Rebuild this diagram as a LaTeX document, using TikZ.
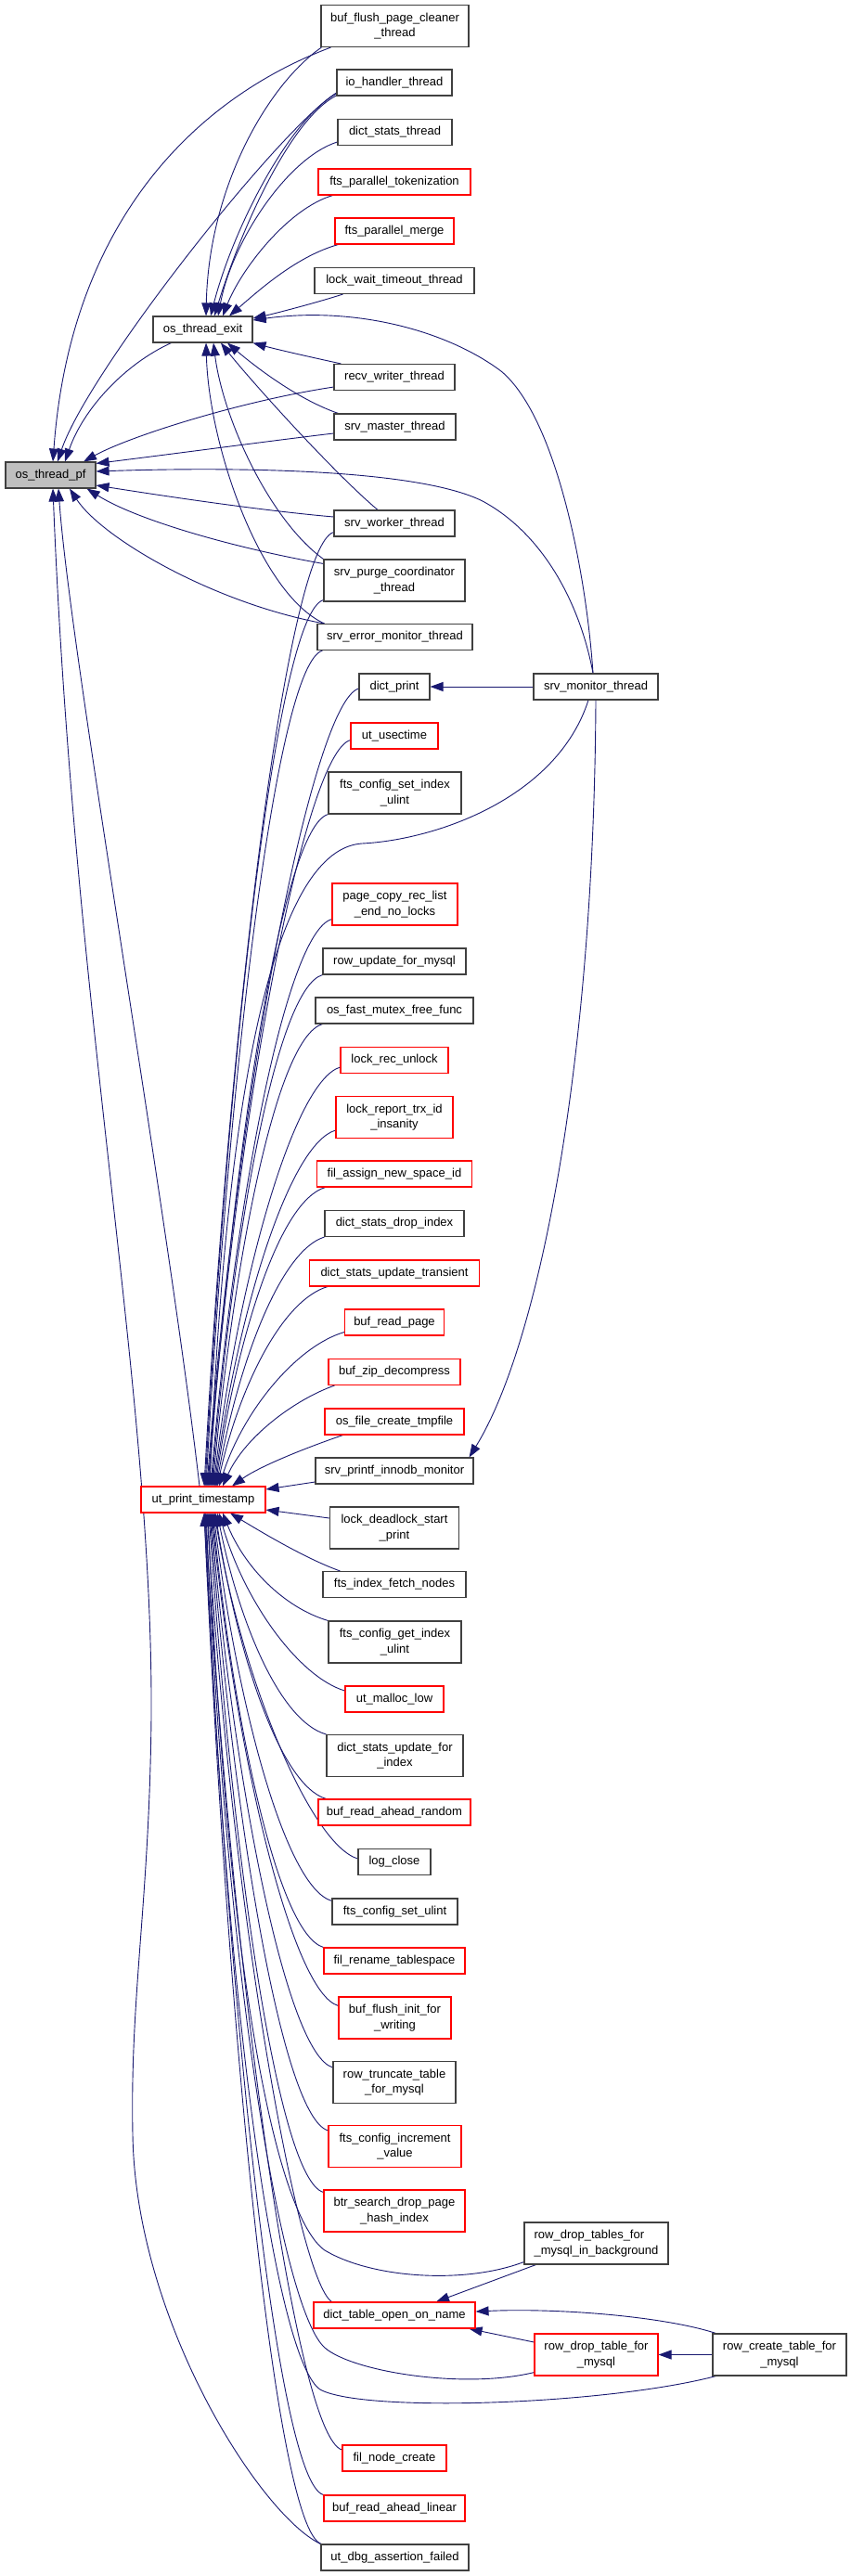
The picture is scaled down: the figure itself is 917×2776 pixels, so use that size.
\documentclass[tikz,border=0pt]{standalone}
\usepackage{fontspec}
\setmainfont{Liberation Sans}
\usetikzlibrary{arrows.meta}
\definecolor{eblue}{RGB}{25,25,112}
\definecolor{nred}{RGB}{255,0,0}
\definecolor{ngray}{RGB}{191,191,191}
\pgfdeclarelayer{background}
\pgfsetlayers{background,main}
\begin{document}
\begin{tikzpicture}[x=1pt,y=-1pt,
 nd/.style={draw=black!75, line width=1.1pt, fill=white, inner sep=0pt, align=center,
   font=\fontsize{13pt}{16.5pt}\selectfont, minimum height=28pt},
 rd/.style={nd, draw=nred},
 tw/.style={minimum height=45pt},
 wd/.style={minimum width=#1pt},
 ed/.style={draw=eblue, line width=0.9pt, {Triangle[length=14pt,width=10pt]}-}]
\useasboundingbox (0,0) rectangle (917,2776);
% nodes
\node[nd,fill=ngray,wd=97] (pf) at (54.5,512) {os\_thread\_pf};
\node[nd,wd=107] (exit) at (218.5,355) {os\_thread\_exit};
\node[rd,wd=134] (uts) at (219,1616) {ut\_print\_timestamp};
\node[nd,tw,wd=159] (bfpc) at (425.5,28) {buf\_flush\_page\_cleaner\\\_thread};
\node[nd,wd=124] (io) at (425,89) {io\_handler\_thread};
\node[nd,wd=123] (dst) at (425.5,142.5) {dict\_stats\_thread};
\node[rd,wd=164] (fpt) at (425,196) {fts\_parallel\_tokenization};
\node[rd,wd=128] (fpm) at (425,249) {fts\_parallel\_merge};
\node[nd,wd=172] (lwt) at (425,302.5) {lock\_wait\_timeout\_thread};
\node[nd,wd=130] (rwt) at (425,406.5) {recv\_writer\_thread};
\node[nd,wd=131] (smt) at (425.5,460) {srv\_master\_thread};
\node[nd,wd=130] (swt) at (425,564) {srv\_worker\_thread};
\node[nd,tw,wd=152] (spc) at (425,625.5) {srv\_purge\_coordinator\\\_thread};
\node[nd,wd=167] (semt) at (425.5,686.5) {srv\_error\_monitor\_thread};
\node[nd,wd=76] (dp) at (425,740) {dict\_print};
\node[rd,wd=94] (uus) at (425,793) {ut\_usectime};
\node[nd,tw,wd=143] (fcsiu) at (425.5,854.5) {fts\_config\_set\_index\\\_ulint};
\node[rd,tw,wd=135] (pcr) at (425.5,974.5) {page\_copy\_rec\_list\\\_end\_no\_locks};
\node[nd,wd=154] (rufm) at (425,1036) {row\_update\_for\_mysql};
\node[nd,wd=170] (ofm) at (425,1089) {os\_fast\_mutex\_free\_func};
\node[rd,wd=116] (lru) at (425,1142.5) {lock\_rec\_unlock};
\node[rd,tw,wd=126] (lrt) at (425,1204) {lock\_report\_trx\_id\\\_insanity};
\node[rd,wd=167] (fans) at (425,1265) {fil\_assign\_new\_space\_id};
\node[nd,wd=150] (dsdi) at (425,1318.5) {dict\_stats\_drop\_index};
\node[rd,wd=183] (dsut) at (425,1372) {dict\_stats\_update\_transient};
\node[rd,wd=107] (brp) at (425,1425) {buf\_read\_page};
\node[rd,wd=142] (bzd) at (425,1478.5) {buf\_zip\_decompress};
\node[rd,wd=150] (ofct) at (425,1532) {os\_file\_create\_tmpfile};
\node[nd,wd=170] (spim) at (425,1585) {srv\_printf\_innodb\_monitor};
\node[nd,tw,wd=139] (ldsp) at (425,1646.5) {lock\_deadlock\_start\\\_print};
\node[nd,wd=154] (fifn) at (425,1707.5) {fts\_index\_fetch\_nodes};
\node[nd,tw,wd=143] (fcgiu) at (425.5,1769.5) {fts\_config\_get\_index\\\_ulint};
\node[rd,wd=106] (uml) at (425,1831) {ut\_malloc\_low};
\node[nd,tw,wd=147] (dsufi) at (425.5,1892) {dict\_stats\_update\_for\\\_index};
\node[rd,wd=164] (brar) at (425,1953) {buf\_read\_ahead\_random};
\node[nd,wd=78] (lc) at (425,2006.5) {log\_close};
\node[nd,wd=135] (fcsu) at (425.5,2060) {fts\_config\_set\_ulint};
\node[rd,wd=152] (frt) at (425,2113) {fil\_rename\_tablespace};
\node[rd,tw,wd=121] (bfifw) at (425.5,2174.5) {buf\_flush\_init\_for\\\_writing};
\node[nd,tw,wd=132] (rttfm) at (425,2244) {row\_truncate\_table\\\_for\_mysql};
\node[rd,tw,wd=143] (fciv) at (425.5,2313) {fts\_config\_increment\\\_value};
\node[rd,tw,wd=152] (bsdph) at (425,2382.5) {btr\_search\_drop\_page\\\_hash\_index};
\node[rd,wd=174] (dtoon) at (425,2495) {dict\_table\_open\_on\_name};
\node[rd,wd=112] (fnc) at (425,2649) {fil\_node\_create};
\node[rd,wd=152] (bral) at (425,2703) {buf\_read\_ahead\_linear};
\node[nd,wd=159] (udaf) at (425.5,2756) {ut\_dbg\_assertion\_failed};
\node[nd,wd=134] (smon) at (642,740) {srv\_monitor\_thread};
\node[nd,tw,wd=155,align=left] (rdtbg) at (642.5,2417.5) {row\_drop\_tables\_for\\\_mysql\_in\_background};
\node[rd,tw,wd=133] (rdtfm) at (642.5,2537.5) {row\_drop\_table\_for\\\_mysql};
\node[nd,tw,wd=144] (rctfm) at (840,2537.5) {row\_create\_table\_for\\\_mysql};
\begin{pgfonlayer}{background}
\fill[white] (0,0) rectangle (917,2776);
% edges into os_thread_pf
\draw[ed] ([xshift=2.5pt]pf.north) .. controls (75,250) and (200,110) .. ([xshift=11pt]bfpc.south west);
\draw[ed] ([xshift=7.5pt]pf.north) .. controls (95,400) and (300,140) .. ([yshift=-11pt]io.west);
\draw[ed] ([xshift=15.5pt]pf.north) .. controls (90,440) and (135,392) .. ([xshift=20pt]exit.south west);
\draw[ed] ([xshift=35.5pt]pf.north) .. controls (140,470) and (260,432) .. ([yshift=4pt]rwt.south west);
\draw[ed] ([yshift=-2pt]pf.north east) .. controls (180,490) and (300,474) .. ([yshift=-7pt]smt.west);
\draw[ed] ([yshift=4pt]pf.east) .. controls (250,503) and (450,505) .. (520,540) .. controls (585,575) and (625,650) .. ([xshift=-3pt]smon.north);
\draw[ed] ([yshift=-11pt]pf.east) .. controls (180,535) and (280,550) .. ([yshift=7pt]swt.west);
\draw[ed] ([xshift=-10pt]pf.south east) .. controls (150,562) and (260,592) .. ([yshift=-5pt]spc.north west);
\draw[ed] ([xshift=20.5pt]pf.south) .. controls (110,580) and (230,650) .. ([xshift=8pt]semt.north west);
\draw[ed] ([xshift=8.5pt]pf.south) .. controls (75,700) and (180,1300) .. ([xshift=-4pt]uts.north);
\draw[ed] ([xshift=2.5pt]pf.south) .. controls (80,1100) and (165,1500) .. (163,1850) .. controls (161,2050) and (140,2150) .. (143,2300) .. controls (146,2500) and (280,2710) .. (udaf.north west);
% edges into os_thread_exit
\draw[ed] ([xshift=3.5pt]exit.north) .. controls (225,200) and (290,90) .. ([xshift=1pt]bfpc.south west);
\draw[ed] ([xshift=8.5pt]exit.north) .. controls (250,250) and (310,130) .. ([yshift=-12pt]io.west);
\draw[ed] ([xshift=12.5pt]exit.north) .. controls (262,240) and (315,127) .. ([yshift=-14pt]io.west);
\draw[ed] ([xshift=16.5pt]exit.north) .. controls (250,260) and (310,170) .. ([yshift=-10.5pt]dst.west);
\draw[ed] ([xshift=21.5pt]exit.north) .. controls (260,290) and (310,225) .. ([xshift=16pt]fpt.south west);
\draw[ed] ([xshift=28.5pt]exit.north) .. controls (280,312) and (320,276) .. ([xshift=4pt]fpm.south west);
\draw[ed] ([yshift=12pt]exit.east) .. controls (300,337) and (345,325) .. ([xshift=31pt]lwt.south west);
\draw[ed] ([yshift=10pt]exit.east) .. controls (380,330) and (480,355) .. (540,400) .. controls (600,450) and (632,620) .. ([xshift=-3pt]smon.north);
\draw[ed] (exit.south east) .. controls (300,377) and (340,386) .. ([xshift=8pt]rwt.north west);
\draw[ed] ([xshift=26.5pt]exit.south) .. controls (275,395) and (320,430) .. ([xshift=5pt]smt.north west);
\draw[ed] ([xshift=19.5pt]exit.south) .. controls (270,410) and (360,510) .. ([xshift=-18pt]swt.north);
\draw[ed] ([xshift=11.5pt]exit.south) .. controls (240,450) and (290,560) .. (spc.north west);
\draw[ed] ([xshift=3.5pt]exit.south) .. controls (225,480) and (280,640) .. ([xshift=8pt]semt.north west);
% srv_monitor_thread
\draw[ed] (dp.east) -- (smon.west);
\draw[ed] ([xshift=-5pt]spim.north east) .. controls (580,1450) and (640,1150) .. (smon.south);
\draw[ed] ([xshift=7pt]uts.north) .. controls (245,1150) and (300,915) .. (390,909) .. controls (470,905) and (600,860) .. ([xshift=-8pt]smon.south);
% callers above ut_print_timestamp
\draw[ed] ([xshift=1pt]uts.north) .. controls (248,1088) and (310,588) .. ([yshift=5pt]swt.south west);
\draw[ed] ([xshift=2pt]uts.north) .. controls (247,1124) and (299,661) .. ([yshift=2pt]spc.south west);
\draw[ed] ([xshift=3pt]uts.north) .. controls (247,1152) and (298,716) .. ([xshift=6pt]semt.south west);
\draw[ed] ([xshift=4pt]uts.north) .. controls (256,1172) and (337,757) .. ([yshift=-2pt]dp.west);
\draw[ed] ([xshift=5pt]uts.north) .. controls (255,1200) and (328,812) .. ([yshift=10pt]uus.south west);
\draw[ed] ([xshift=6pt]uts.north) .. controls (251,1240) and (304,892) .. (fcsiu.south west);
\draw[ed] ([xshift=8pt]uts.north) .. controls (253,1296) and (308,1005) .. ([yshift=7pt]pcr.south west);
\draw[ed] ([xshift=9pt]uts.north) .. controls (252,1326) and (298,1065) .. (rufm.south west);
\draw[ed] ([xshift=10pt]uts.north) .. controls (253,1352) and (298,1118) .. ([xshift=8pt]ofm.south west);
\draw[ed] ([xshift=11pt]uts.north) .. controls (257,1376) and (317,1165) .. ([yshift=7pt]lru.south west);
\draw[ed] ([xshift=12pt]uts.north) .. controls (257,1410) and (312,1233) .. ([yshift=9pt]lrt.south west);
\draw[ed] ([xshift=13pt]uts.north) .. controls (256,1440) and (301,1294) .. ([xshift=9.5pt]fans.south west);
\draw[ed] ([xshift=14pt]uts.north) .. controls (257,1468) and (302,1348) .. (dsdi.south west);
\draw[ed] ([xshift=15pt]uts.north) .. controls (258,1494) and (304,1401) .. ([xshift=20pt]dsut.south west);
\draw[ed] ([xshift=17pt]uts.north) .. controls (263,1518) and (321,1450) .. ([yshift=4pt]brp.south west);
\draw[ed] ([xshift=21pt]uts.north) .. controls (264,1548) and (318,1508) .. ([xshift=7pt]bzd.south west);
\draw[ed] ([xshift=31pt]uts.north) .. controls (280,1580) and (330,1560) .. ([xshift=20pt]ofct.south west);
\draw[ed] ([yshift=11pt]uts.east) -- ([yshift=-12pt]spim.west);
\draw[ed] ([yshift=-11pt]uts.east) -- ([yshift=10.5pt]ldsp.west);
% callers below ut_print_timestamp
\draw[ed] ([xshift=29pt]uts.south) .. controls (280,1650) and (330,1680) .. ([xshift=19pt]fifn.north west);
\draw[ed] ([xshift=21pt]uts.south) .. controls (263,1688) and (305,1732) .. (fcgiu.north west);
\draw[ed] ([xshift=17pt]uts.south) .. controls (263,1726) and (322,1807) .. ([yshift=9pt]uml.west);
\draw[ed] ([xshift=15pt]uts.south) .. controls (258,1750) and (302,1855) .. (dsufi.north west);
\draw[ed] ([xshift=13pt]uts.south) .. controls (256,1784) and (302,1924) .. ([xshift=9pt]brar.north west);
\draw[ed] ([xshift=12pt]uts.south) .. controls (262,1816) and (336,1988) .. ([yshift=3.5pt]lc.west);
\draw[ed] ([xshift=11pt]uts.south) .. controls (256,1840) and (308,2034) .. ([yshift=-3pt]fcsu.north west);
\draw[ed] ([xshift=10pt]uts.south) .. controls (253,1864) and (300,2084) .. (frt.north west);
\draw[ed] ([xshift=9pt]uts.south) .. controls (255,1896) and (315,2147) .. ([yshift=-10pt]bfifw.north west);
\draw[ed] ([xshift=8pt]uts.south) .. controls (253,1929) and (309,2213) .. ([yshift=-7pt]rttfm.north west);
\draw[ed] ([xshift=7pt]uts.south) .. controls (252,1963) and (304,2281) .. ([yshift=-6pt]fciv.north west);
\draw[ed] ([xshift=6pt]uts.south) .. controls (250,1996) and (299,2348) .. ([yshift=-3pt]bsdph.north west);
\draw[ed] ([xshift=5pt]uts.south) .. controls (246,2150) and (300,2390) .. (350,2425) .. controls (400,2455) and (500,2462) .. ([yshift=3pt]rdtbg.south west);
\draw[ed] ([xshift=4pt]uts.south) .. controls (250,2056) and (320,2455) .. ([xshift=20pt]dtoon.north west);
\draw[ed] ([xshift=3pt]uts.south) .. controls (245,2150) and (305,2490) .. (350,2530) .. controls (380,2556) and (500,2575) .. ([yshift=4pt]rdtfm.south west);
\draw[ed] ([xshift=2pt]uts.south) .. controls (245,2200) and (300,2545) .. (345,2575) .. controls (390,2600) and (650,2592) .. ([xshift=4pt]rctfm.south west);
\draw[ed] ([xshift=2pt]uts.south) .. controls (251,2135) and (319,2625) .. ([yshift=9pt]fnc.west);
\draw[ed] ([xshift=1pt]uts.south) .. controls (246,2160) and (298,2674) .. (bral.north west);
\draw[ed] ([xshift=1pt]uts.south) .. controls (245,2186) and (297,2727) .. ([xshift=1pt]udaf.north west);
% dict_table_open_on_name group
\draw[ed] ([xshift=45pt]dtoon.north) -- ([xshift=13pt]rdtbg.south west);
\draw[ed] ([yshift=4pt]dtoon.east) .. controls (600,2487) and (715,2496) .. ([xshift=4pt]rctfm.north west);
\draw[ed] ([xshift=-7pt]dtoon.south east) -- ([yshift=13.5pt]rdtfm.west);
\draw[ed] (rdtfm.east) -- (rctfm.west);
\end{pgfonlayer}
\end{tikzpicture}
\end{document}
